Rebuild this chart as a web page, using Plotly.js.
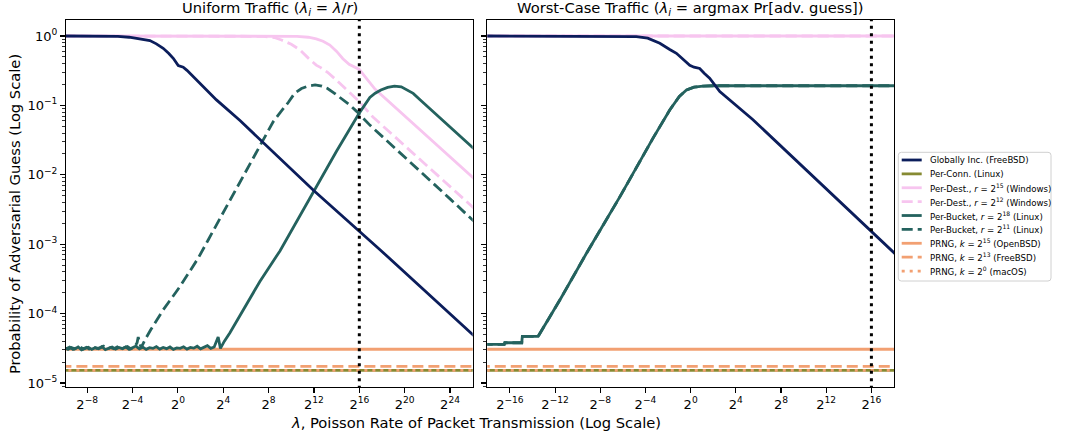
<!DOCTYPE html>
<html><head><meta charset="utf-8">
<script src="https://cdn.plot.ly/plotly-3.0.1.min.js"></script>
<style>html,body{margin:0;padding:0;background:#fff}#chart{width:1067px;height:437px}</style>
</head><body><div id="chart"></div>
<script>
// ---------------- DATA (x given as log2 of lambda, y as probability) ----------------
const uniformTickLog2 = [-8,-4,0,4,8,12,16,20,24];
const worstTickLog2 = [-16,-12,-8,-4,0,4,8,12,16];
const yTickExp = [-5,-4,-3,-2,-1,0];
const markerRateLog2 = [16];

// Uniform traffic panel
const uniGlobalLog2 = [-10,-7,-5.3,-4.3,-3.4,-2.47,-1.9,-1.3,-0.8,-0.41,0.03,0.25,0.47,0.8,1.06,1.65,2.5,3.4,5.5,12,17.8,26.3];
const uniGlobalP = [1,0.998,0.985,0.96,0.92,0.86,0.77,0.665,0.56,0.477,0.374,0.36,0.355,0.32,0.29,0.232,0.17,0.12,0.06,5.9e-3,8.4e-4,4.5e-5];

const uniDest15Log2 = [-10,9,10.5,11.5,12.2,12.8,13.4,14.0,14.55,15.1,15.5,16.0,16.5,17.4,26.3];
const uniDest15P = [1,1,0.99,0.96,0.91,0.84,0.74,0.6,0.47,0.39,0.36,0.33,0.26,0.17,0.0083];

const uniDest12Log2 = [-10,6,7.5,8.5,9.14,10,10.76,11.5,12.2,12.6,13.2,14,15.96,17.2,26.3];
const uniDest12P = [1,1,0.99,0.95,0.875,0.76,0.63,0.48,0.38,0.35,0.3,0.23,0.115,0.068,0.0031];

const uniBucket18Log2 = [-10,-9.7,-9.4,-9.1,-8.8,-8.5,-8.2,-7.9,-7.6,-7.3,-7,-6.7,-6.4,-6.1,-5.8,-5.5,-5.2,-4.9,-4.6,-4.3,-4,-3.7,-3.4,-3.1,-2.8,-2.5,-2.2,-1.9,-1.6,-1.3,-1,-0.7,-0.4,-0.1,0.2,0.5,0.8,1.1,1.4,1.7,2,2.3,2.6,2.9,3.2,3.4,3.55,3.75,4.1,4.59,5.47,6.3,7.23,9,12.08,14,16.05,16.5,16.93,17.4,17.9,18.5,19.1,19.7,20.2,20.75,21.5,23,25.9,26.3];
const uniBucket18P = [3.20e-5,3.05e-5,3.25e-5,3.10e-5,3.30e-5,3.00e-5,3.15e-5,3.28e-5,3.05e-5,3.22e-5,3.12e-5,3.35e-5,3.02e-5,3.18e-5,3.30e-5,3.08e-5,3.25e-5,3.12e-5,3.32e-5,3.05e-5,3.20e-5,3.40e-5,3.10e-5,3.28e-5,3.05e-5,3.22e-5,3.15e-5,3.35e-5,3.08e-5,3.25e-5,3.12e-5,3.30e-5,3.05e-5,3.20e-5,3.15e-5,3.32e-5,3.08e-5,3.25e-5,3.18e-5,3.38e-5,3.10e-5,3.30e-5,3.45e-5,3.15e-5,3.30e-5,4.0e-5,4.6e-5,3.15e-5,4.0e-5,5.3e-5,9.5e-5,1.6e-4,2.9e-4,8.0e-4,6.0e-3,0.022,0.08,0.105,0.13,0.15,0.167,0.182,0.19,0.185,0.168,0.149,0.115,0.069,0.0254,0.0222];

const uniBucket11Log2 = [-9.85,-9.55,-9.25,-8.95,-8.65,-8.35,-8.05,-7.75,-7.45,-7.15,-6.85,-6.55,-6.25,-5.95,-5.65,-5.35,-5.05,-4.75,-4.45,-4.15,-3.85,-3.6,-3.5,-3.25,-2.9,-2.41,-1.3,0.18,1.79,2.67,5.08,7,8.4,9.05,9.73,10.3,10.9,11.5,12.1,12.7,13.2,13.75,14.5,15.2,15.76,16.93,24,26.3];
const uniBucket11P = [3.12e-5,3.28e-5,3.05e-5,3.22e-5,3.35e-5,3.10e-5,3.25e-5,3.02e-5,3.30e-5,3.15e-5,3.20e-5,3.38e-5,3.08e-5,3.25e-5,3.12e-5,3.30e-5,3.05e-5,3.22e-5,3.35e-5,3.10e-5,3.28e-5,3.8e-5,4.6e-5,3.2e-5,4.2e-5,5.8e-5,1.13e-4,2.45e-4,6.3e-4,1.15e-3,6.0e-3,0.022,0.058,0.08,0.11,0.15,0.175,0.19,0.197,0.19,0.175,0.152,0.122,0.1,0.082,0.052,4.5e-3,2.0e-3];

// Worst-case traffic panel
const wcGlobalLog2 = [-18.5,-7,-5.5,-4.8,-3.8,-2.73,-1.85,-1.26,-0.6,-0.08,0.3,0.8,1.2,1.68,2.58,5.52,18.5];
const wcGlobalP = [1,1,0.995,0.98,0.93,0.785,0.64,0.563,0.45,0.378,0.355,0.34,0.29,0.246,0.158,0.062,6.3e-4];

const wcDestLog2 = [-18.5,18.5];
const wcDestP = [1,1];

const wcBucketLog2 = [-18.5,-16.5,-16.45,-14.95,-14.9,-13.5,-12.5,-11.5,-9.22,-6.27,-3.33,-2.5,-1.85,-1.0,-0.37,0.3,1.1,2,18.5];
const wcBucketP = [3.6e-5,3.6e-5,3.8e-5,3.8e-5,4.7e-5,4.7e-5,8.8e-5,1.65e-4,7.4e-4,4.8e-3,0.0337,0.058,0.086,0.135,0.167,0.183,0.19,0.192,0.192];

// Constant levels (same in both panels)
const perConnP = [1.52e-5];
const prng15P = [3.06e-5];
const prng13P = [1.74e-5];
const prng0P = [1.52e-5];

const legendNames = [
  'Globally Inc. (FreeBSD)',
  'Per-Conn. (Linux)',
  'Per-Dest., <i>r</i> = 2<sup>15</sup> (Windows)',
  'Per-Dest., <i>r</i> = 2<sup>12</sup> (Windows)',
  'Per-Bucket, <i>r</i> = 2<sup>18</sup> (Linux)',
  'Per-Bucket, <i>r</i> = 2<sup>11</sup> (Linux)',
  'PRNG, <i>k</i> = 2<sup>15</sup> (OpenBSD)',
  'PRNG, <i>k</i> = 2<sup>13</sup> (FreeBSD)',
  'PRNG, <i>k</i> = 2<sup>0</sup> (macOS)'
];

// ---------------- STYLE ----------------
const C = {navy:'#0b1d5b', olive:'#868a32', pink:'#f7c5ef', teal:'#24625e', orange:'#f2a072'};
const LW = 2.8;
const DASH = '11px,5px';
const DOT = '3px,5px';
const legendStyles = [
  {color:C.navy, dash:'solid'}, {color:C.olive, dash:'solid'},
  {color:C.pink, dash:'solid'}, {color:C.pink, dash:DASH},
  {color:C.teal, dash:'solid'}, {color:C.teal, dash:DASH},
  {color:C.orange, dash:'solid'}, {color:C.orange, dash:DASH},
  {color:C.orange, dash:DOT}
];
const FONT = 'DejaVu Sans, Verdana, sans-serif';
const BIG = 14.7;
const W = 1067, H = 437;
const px = v => v / W, py = v => 1 - v / H;
const pow2 = e => Math.pow(2, e);
const sup = (b, e) => b + '<sup>' + (e < 0 ? '\u2212' + (-e) : e) + '</sup>';

function line(log2, p, xa, ya, color, dash, width) {
  return {x: log2.map(pow2), y: p, xaxis: xa, yaxis: ya, mode: 'lines', type: 'scatter',
    line: {color: color, dash: dash || 'solid', width: width || LW}, showlegend: false, hoverinfo: 'skip'};
}
function hline(val, xa, ya, color, dash) {
  return line([-40, 40], [val[0], val[0]], xa, ya, color, dash);
}
function vline(xa, ya) {
  return {x: [pow2(markerRateLog2[0]), pow2(markerRateLog2[0])], y: [1e-8, 1e3], xaxis: xa, yaxis: ya,
    mode: 'lines', type: 'scatter', line: {color: '#000', dash: '3px,4.5px', width: 3}, showlegend: false, hoverinfo: 'skip'};
}

const traces = [];
[['x','y'],['x2','y2']].forEach(([xa, ya]) => {
  traces.push(hline(prng15P, xa, ya, C.orange, 'solid'));
  traces.push(hline(prng13P, xa, ya, C.orange, DASH));
  traces.push(hline(perConnP, xa, ya, C.olive, 'solid'));
  traces.push(hline(prng0P, xa, ya, C.orange, DOT));
});
// uniform
traces.push(line(uniDest12Log2, uniDest12P, 'x', 'y', C.pink, DASH));
traces.push(line(uniDest15Log2, uniDest15P, 'x', 'y', C.pink, 'solid'));
traces.push(line(uniBucket11Log2, uniBucket11P, 'x', 'y', C.teal, DASH));
traces.push(line(uniBucket18Log2, uniBucket18P, 'x', 'y', C.teal, 'solid'));
traces.push(line(uniGlobalLog2, uniGlobalP, 'x', 'y', C.navy, 'solid'));
traces.push(vline('x', 'y'));
// worst case
traces.push(line(wcDestLog2, wcDestP, 'x2', 'y2', C.pink, 'solid'));
traces.push(line(wcDestLog2, wcDestP, 'x2', 'y2', C.pink, DASH));
traces.push(line(wcBucketLog2, wcBucketP, 'x2', 'y2', C.teal, 'solid'));
traces.push(line(wcBucketLog2, wcBucketP, 'x2', 'y2', C.teal, DASH));
traces.push(line(wcGlobalLog2, wcGlobalP, 'x2', 'y2', C.navy, 'solid'));
traces.push(vline('x2', 'y2'));

const tickFont = {family: FONT, size: 13, color: '#000'};
function xAxis(domain, lo, hi, ticks, anchor) {
  return {type: 'log', domain: domain, range: [Math.log10(pow2(lo)), Math.log10(pow2(hi))],
    tickmode: 'array', tickvals: ticks.map(pow2), ticktext: ticks.map(e => sup('2', e)),
    ticks: 'outside', ticklen: 4.9, tickwidth: 1.1, tickcolor: '#000',
    showline: true, mirror: true, linecolor: '#000', linewidth: 1.1,
    showgrid: false, zeroline: false, tickfont: tickFont, anchor: anchor, fixedrange: true};
}
const yDomain = [(H - 387) / H, (H - 20) / H];
const yBase = {type: 'log', domain: yDomain, range: [-5.058, 0.2305],
  tickmode: 'array', tickvals: yTickExp.map(e => Math.pow(10, e)), ticktext: yTickExp.map(e => sup('10', e)),
  ticks: 'outside', ticklen: 4.9, tickwidth: 1.1, tickcolor: '#000',
  minor: {ticks: 'outside', ticklen: 2.8, tickwidth: 0.8, tickcolor: '#000', dtick: 'D1', showgrid: false},
  showline: true, mirror: true, linecolor: '#000', linewidth: 1.1,
  showgrid: false, zeroline: false, tickfont: tickFont, fixedrange: true};

const annotations = [
  {text: 'Uniform Traffic (<i>λ<sub>i</sub></i> = <i>λ</i>/<i>r</i>)', x: px(269.5), y: py(8), xref: 'paper', yref: 'paper',
    xanchor: 'center', yanchor: 'middle', showarrow: false, font: {family: FONT, size: BIG, color: '#000'}},
  {text: 'Worst-Case Traffic (<i>λ<sub>i</sub></i> = argmax Pr[adv. guess])', x: px(690.6), y: py(8), xref: 'paper', yref: 'paper',
    xanchor: 'center', yanchor: 'middle', showarrow: false, font: {family: FONT, size: BIG, color: '#000'}},
  {text: 'Probability of Adversarial Guess (Log Scale)', x: px(14), y: py(214), xref: 'paper', yref: 'paper', textangle: -90,
    xanchor: 'center', yanchor: 'middle', showarrow: false, font: {family: FONT, size: BIG, color: '#000'}},
  {text: '<i>λ</i>, Poisson Rate of Packet Transmission (Log Scale)', x: px(476), y: py(422), xref: 'paper', yref: 'paper',
    xanchor: 'center', yanchor: 'middle', showarrow: false, font: {family: FONT, size: BIG, color: '#000'}}
];

// legend drawn as shapes + text
const shapes = [];
const bx0 = 898.3, bx1 = 1051, by0 = 152.3, by1 = 281, r = 3;
const P = (x, y) => px(x) + ',' + py(y);
shapes.push({type: 'path', xref: 'paper', yref: 'paper', layer: 'above',
  path: 'M' + P(bx0 + r, by0) + ' L' + P(bx1 - r, by0) + ' Q' + P(bx1, by0) + ' ' + P(bx1, by0 + r) +
        ' L' + P(bx1, by1 - r) + ' Q' + P(bx1, by1) + ' ' + P(bx1 - r, by1) +
        ' L' + P(bx0 + r, by1) + ' Q' + P(bx0, by1) + ' ' + P(bx0, by1 - r) +
        ' L' + P(bx0, by0 + r) + ' Q' + P(bx0, by0) + ' ' + P(bx0 + r, by0) + ' Z',
  fillcolor: '#ffffff', line: {color: '#d0d0d0', width: 1}});
legendNames.forEach((name, i) => {
  const yy = 160 + i * 13.88;
  shapes.push({type: 'line', xref: 'paper', yref: 'paper', layer: 'above', x0: px(901.7), x1: px(921.7), y0: py(yy), y1: py(yy),
    line: {color: legendStyles[i].color, dash: legendStyles[i].dash, width: LW}});
  annotations.push({text: name, x: px(928.3), y: py(yy), xref: 'paper', yref: 'paper', xanchor: 'left', yanchor: 'middle',
    showarrow: false, font: {family: FONT, size: 8.6, color: '#000'}});
});

const layout = {
  width: W, height: H, autosize: false, margin: {l: 0, r: 0, t: 0, b: 0, pad: 0},
  paper_bgcolor: '#fff', plot_bgcolor: '#fff', showlegend: false,
  font: {family: FONT, color: '#000'},
  xaxis: xAxis([66 / W, 472.7 / W], -9.87, 26.0, uniformTickLog2, 'y'),
  xaxis2: xAxis([487.3 / W, 894 / W], -18, 18, worstTickLog2, 'y2'),
  yaxis: Object.assign({}, yBase, {anchor: 'x'}),
  yaxis2: Object.assign({}, yBase, {anchor: 'x2', matches: 'y', showticklabels: false}),
  annotations: annotations, shapes: shapes
};
Plotly.newPlot('chart', traces, layout, {staticPlot: true, displayModeBar: false});
</script></body></html>
